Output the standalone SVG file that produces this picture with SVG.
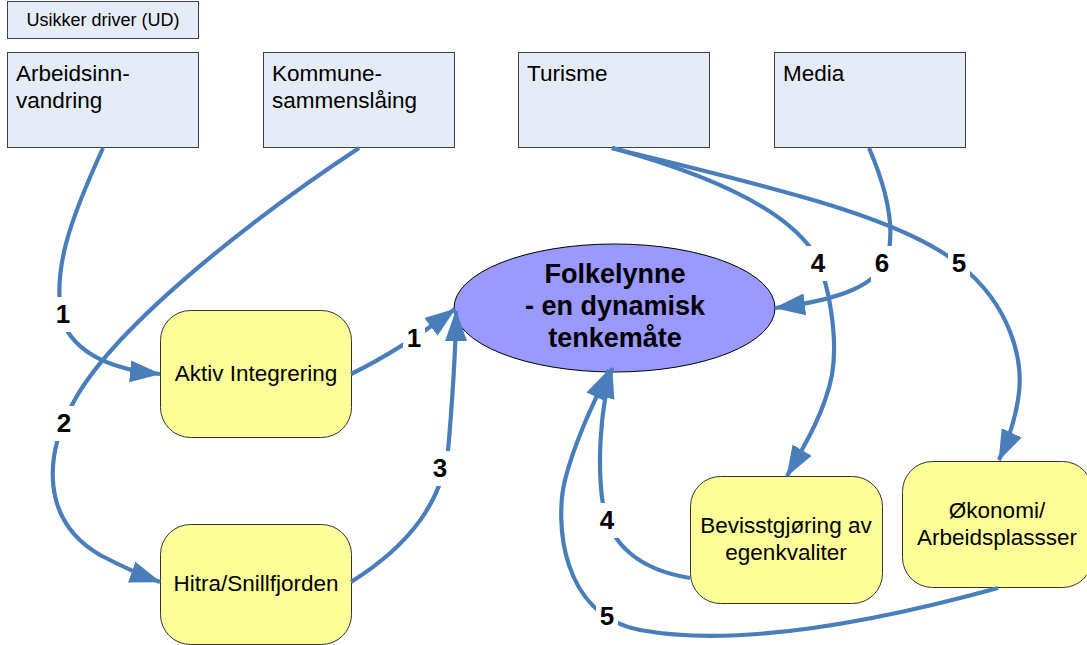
<svg xmlns="http://www.w3.org/2000/svg" width="1087" height="645" viewBox="0 0 1087 645">
<style>
.drv{fill:#E6ECF7;stroke:#404040;stroke-width:1}
.yel{fill:#FFFF99;stroke:#333333;stroke-width:1}
.t{font-family:"Liberation Sans",Arial,sans-serif;font-size:22.5px;fill:#000}
.tc{text-anchor:middle}
.b{font-family:"Liberation Sans",Arial,sans-serif;font-weight:bold;font-size:26px;fill:#000;text-anchor:middle}
.e{font-size:27px}
.c{fill:none;stroke:#4A7EBB;stroke-width:4.2;marker-end:url(#arr)}
.lb{fill:#fff}
</style>
<defs>
<marker id="arr" markerUnits="userSpaceOnUse" markerWidth="32" markerHeight="24" viewBox="0 0 32 24" refX="30" refY="12" orient="auto">
<path d="M0,1 L31,12 L0,23 Z" fill="#4A7EBB"/>
</marker>
</defs>
<rect width="1087" height="645" fill="#fff"/>

<g id="ud-legend">
<rect class="drv" x="7.5" y="1.5" width="191" height="37"/>
<text class="t tc" x="103" y="26" style="font-size:18px">Usikker driver (UD)</text>
</g>
<g id="arbeidsinnvandring">
<rect class="drv" x="7.5" y="52.5" width="191" height="95"/>
<text class="t" x="16" y="81">Arbeidsinn-</text>
<text class="t" x="16" y="108">vandring</text>
</g>
<g id="kommunesammenslaaing">
<rect class="drv" x="263.5" y="52.5" width="191" height="95"/>
<text class="t" x="272" y="81">Kommune-</text>
<text class="t" x="272" y="108">sammenslåing</text>
</g>
<g id="turisme">
<rect class="drv" x="518.5" y="52.5" width="191" height="95"/>
<text class="t" x="527" y="81">Turisme</text>
</g>
<g id="media">
<rect class="drv" x="774.5" y="52.5" width="191" height="95"/>
<text class="t" x="783" y="81">Media</text>
</g>

<g id="folkelynne">
<ellipse cx="614.5" cy="308" rx="160.5" ry="64" fill="#9999FF" stroke="#000" stroke-width="1"/>
<text class="b e" x="615" y="283">Folkelynne</text>
<text class="b e" x="615" y="315">- en dynamisk</text>
<text class="b e" x="615" y="347">tenkemåte</text>
</g>

<g id="aktiv-integrering">
<rect class="yel" x="160.5" y="310.5" width="191" height="127" rx="30" ry="30"/>
<text class="t tc" x="256" y="381">Aktiv Integrering</text>
</g>
<g id="hitra-snillfjorden">
<rect class="yel" x="160.5" y="524.5" width="191" height="120" rx="30" ry="30"/>
<text class="t tc" x="256" y="591">Hitra/Snillfjorden</text>
</g>
<g id="bevisstgjoring">
<rect class="yel" x="690.5" y="476.5" width="192" height="127" rx="30" ry="30"/>
<text class="t tc" x="786" y="533">Bevisstgjøring av</text>
<text class="t tc" x="786" y="560">egenkvaliter</text>
</g>
<g id="okonomi">
<rect class="yel" x="902.5" y="461.5" width="190" height="126" rx="30" ry="30"/>
<text class="t tc" x="997" y="518">Økonomi/</text>
<text class="t tc" x="997" y="545">Arbeidsplassser</text>
</g>

<g id="connectors">
<path class="c" d="M103,148 C70,220 52,270 62,320 C75,355 115,370 160,374"/>
<path class="c" d="M359,148 C250,220 110,330 72,405 C45,455 40,520 100,555 C125,568 140,575 160,582"/>
<path class="c" d="M351,374 C380,360 420,335 455,309"/>
<path class="c" d="M351,582 C410,545 445,500 449,440 C453,390 456,350 456,311"/>
<path class="c" d="M612,148 C700,172 780,205 812,250 C830,280 838,340 832,375 C825,410 808,440 787,476"/>
<path class="c" d="M612,148 C760,185 900,215 960,265 C1010,305 1025,360 1018,400 C1014,425 1006,445 999,460"/>
<path class="c" d="M869,148 C885,185 895,225 888,255 C880,285 840,300 775,308"/>
<path class="c" d="M690,578 C640,570 610,545 603,505 C597,465 600,410 612,368"/>
<path class="c" d="M998,588 C900,615 750,650 640,630 C560,615 555,520 565,480 C575,440 595,400 609,370"/>

<g id="labels">
<rect class="lb" x="52" y="297" width="22" height="35"/>
<text class="b" x="63" y="323">1</text>
<rect class="lb" x="53" y="406" width="22" height="35"/>
<text class="b" x="64" y="432">2</text>
<rect class="lb" x="403" y="321" width="22" height="35"/>
<text class="b" x="414" y="347">1</text>
<rect class="lb" x="429" y="451" width="22" height="35"/>
<text class="b" x="440" y="477">3</text>
<rect class="lb" x="807" y="246" width="22" height="35"/>
<text class="b" x="818" y="272">4</text>
<rect class="lb" x="871" y="246" width="22" height="35"/>
<text class="b" x="882" y="272">6</text>
<rect class="lb" x="948" y="246" width="22" height="35"/>
<text class="b" x="959" y="272">5</text>
<rect class="lb" x="596" y="503" width="22" height="35"/>
<text class="b" x="607" y="529">4</text>
<rect class="lb" x="596" y="599" width="22" height="35"/>
<text class="b" x="607" y="625">5</text>
</g>
</g>
</svg>
